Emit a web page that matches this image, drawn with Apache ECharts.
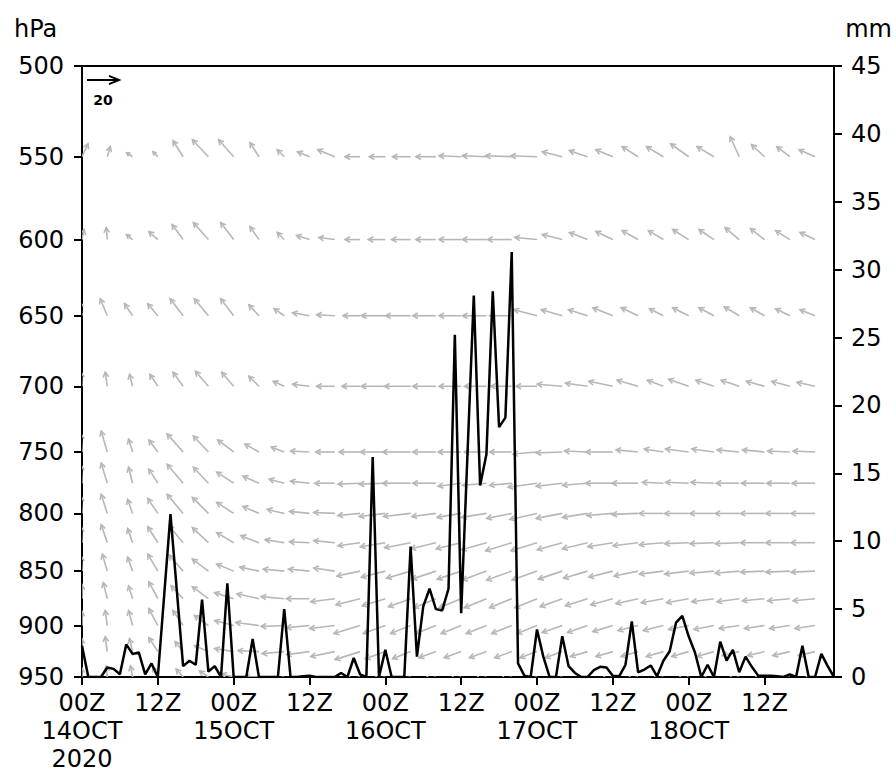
<!DOCTYPE html>
<html><head><meta charset="utf-8">
<script src="https://cdn.jsdelivr.net/npm/echarts@6/dist/echarts.min.js"></script>
<style>html,body{margin:0;padding:0;background:#fff}#c{width:896px;height:773px}</style>
</head><body><div id="c"></div>
<script>
// ---------------- DATA ----------------
// hourly precipitation (mm), 00Z 14OCT2020 .. 23Z 18OCT2020
const precip = [
 2.3,0,0,0,0.7,0.6,0.2,2.4,1.7,1.8,0.2,1.0,
 0,6.0,12.0,6.4,0.8,1.2,0.9,5.7,0.4,0.8,0,6.9,
 0,0,0,2.8,0,0,0,0,5.0,0,0,0.05,0.1,0,0,0,0,0.3,0,1.4,0.2,0,16.2,0,
 2.0,0,0,0,9.6,1.5,5.2,6.5,5.0,4.9,6.5,25.2,4.7,16.4,28.1,14.1,16.4,28.4,18.4,19.1,31.3,1.0,0.1,0,
 3.5,1.5,0,0,3.0,0.8,0.3,0,0,0.5,0.75,0.7,0.1,0.05,0.9,4.1,0.35,0.55,0.85,0.05,1.2,1.9,4.0,4.5,
 3.0,1.8,0,0.9,0,2.6,1.2,2.0,0.35,1.5,0.75,0.1,0.1,0.1,0.05,0,0.2,0,2.3,0,0,1.7,0.8,0
];
const xTickHours = [0,12,24,36,48,60,72,84,96,108];
const xTickLabels = ['00Z\n14OCT\n2020','12Z','00Z\n15OCT','12Z','00Z\n16OCT','12Z','00Z\n17OCT','12Z','00Z\n18OCT','12Z'];
const pressureTicks = [500,550,600,650,700,750,800,850,900,950];
const windHours = [0,4,8,12,16,20,24,28,32,36,40,44,48,52,56,60,64,68,72,76,80,84,88,92,96,100,104,108,112,116];
const levels = [550,600,650,700,750,775,800,825,850,875,900,925,950];
// wind components (m/s) per level, one value per windHours entry
const u550 = [3.8,1.9,-3.8,-3.1,-6.3,-10,-9.4,-5.6,-4.4,-7.5,-10.6,-9.4,-10,-11.3,-12.5,-13.8,-15,-16.3,-16.3,-12.5,-11.3,-10.6,-10,-10.6,-11.3,-10.6,-5.6,-8.1,-8.1,-10];
const v550 = [8.1,6.3,2.5,3.1,10,10.6,10.6,8.8,4.4,3.1,4.4,0,0,0,0,0.6,0.6,0.6,0.6,3.1,3.8,4.4,6.3,6.3,8.1,6.3,12.5,7.5,6.3,4.4];
const u600 = [1.3,-0.6,-3.8,-5.6,-6.9,-9.4,-8.1,-5.6,-4.4,-8.1,-10,-9.4,-10.6,-11.9,-12.5,-13.8,-15,-15,-13.8,-12.5,-11.3,-10.6,-10,-9.4,-10,-9.4,-8.8,-8.8,-8.8,-9.4];
const v600 = [6.3,7.5,3.1,5,9.4,10.6,10.6,8.1,4.4,2.5,1.3,0,0,0,0,0,0,0,1.3,3.1,4.4,5,5.6,5.6,6.3,6.3,7.5,6.9,5.6,4.4];
const u650 = [-1.3,-4.4,-5,-6.3,-8.1,-8.8,-8.1,-6.3,-6.3,-10.6,-11.3,-10.6,-15,-15.6,-14.4,-13.8,-15,-13.8,-14.4,-13.1,-11.9,-12.5,-10.6,-8.8,-10,-9.4,-9.4,-8.8,-8.8,-9.4];
const v650 = [8.8,10.6,7.5,7.5,10.6,10.6,10.6,6.9,4.4,1.9,0.6,0,0,0,0,0,0,0,3.8,3.8,3.8,5,5,4.4,5,5,5.6,5,4.4,3.8];
const u700 = [-0.6,-1.3,-1.9,-5,-6.3,-8.1,-7.5,-6.3,-6.9,-10.6,-11.3,-11.3,-15,-16.3,-14.4,-13.8,-13.8,-13.1,-13.1,-15.6,-13.8,-15,-13.1,-10,-12.5,-11.3,-11.3,-11.3,-11.3,-11.3];
const v700 = [8.8,8.8,7.5,7.5,8.8,9.4,8.8,6.3,3.1,1.3,0,0,0,0,0,0,0,0,0,1.3,1.9,3.1,3.8,3.8,4.4,3.8,3.8,3.1,3.1,2.5];
const u750 = [-0.6,-3.8,-2.5,-5.6,-10,-9.4,-10,-8.8,-8.1,-11.9,-11.9,-13.1,-15.6,-17.5,-14.4,-14.4,-13.8,-13.8,-15,-16.3,-14.4,-16.9,-13.8,-11.9,-14.4,-13.8,-13.8,-13.8,-13.8,-13.8];
const v750 = [11.3,13.1,8.1,7.5,11.3,10,7.5,5,3.1,0.6,0,0,0,0,0,0,0,0,-1.3,-0.6,0.6,0,1.3,1.9,1.9,1.9,1.3,1.3,0.6,0.6];
const u775 = [-0.6,-3.8,-2.5,-5.6,-10,-9.4,-10.6,-10,-9.4,-11.9,-12.5,-13.8,-16.3,-17.5,-14.4,-14.4,-15,-13.8,-18.1,-16.3,-15.6,-16.9,-16.3,-13.1,-14.4,-14.4,-14.4,-14.4,-14.4,-14.4];
const v775 = [11.3,12.5,10,8.8,11.9,10,6.9,4.4,2.5,1.3,0,-0.6,-0.6,0,0,-1.9,-1.3,-1.3,-2.5,-1.9,-1.3,0,0,0.6,0.6,0.6,0,0,0,0];
const u800 = [-0.6,-3.8,-3.1,-6.3,-10,-10,-10.6,-10,-10.6,-12.5,-13.1,-13.8,-16.3,-16.9,-15,-15,-15.6,-15.6,-16.9,-16.3,-15.6,-16.3,-16.3,-15,-15,-15,-15,-15,-15,-15];
const v800 = [10.6,11.9,8.8,9.4,11.9,10,6.9,4.4,2.5,1.3,0.6,-1.3,-1.9,-1.9,-1.9,-2.5,-2.5,-3.1,-3.8,-3.1,-2.5,-1.3,-0.6,0,0,0,0,0,0,0];
const u825 = [-0.6,-3.8,-3.1,-6.3,-8.8,-10,-10.6,-11.3,-11.9,-12.5,-13.1,-13.8,-15.6,-16.3,-15.6,-15.6,-15.6,-16.3,-16.3,-15.6,-15.6,-15.6,-15.6,-15,-15,-15,-15,-15,-15,-15];
const v825 = [10,11.3,8.8,10,10.6,9.4,6.3,4.4,1.9,0.6,1.3,-1.9,-2.5,-3.1,-3.8,-3.8,-4.4,-5,-5,-4.4,-3.8,-2.5,-1.9,-1.3,-0.6,-0.6,-0.6,0,0,0];
const u850 = [-0.6,-3.1,-3.1,-6.3,-8.8,-10,-10.6,-11.9,-13.1,-13.1,-13.1,-14.4,-15,-15,-15,-15,-15,-15.6,-15.6,-15,-15,-15,-15,-15,-15,-15,-15,-15,-15,-15];
const v850 = [9.4,10.6,8.8,10.6,10,7.5,4.4,2.5,1.3,1.3,1.9,-3.1,-3.8,-4.4,-5,-5,-5.6,-5.6,-5.6,-5,-4.4,-3.8,-3.1,-1.9,-1.9,-1.3,-1.3,-0.6,-0.6,-0.6];
const u875 = [0,-2.5,-2.5,-5.6,-7.5,-10,-11.9,-13.8,-14.4,-14.4,-15,-15,-14.4,-13.8,-13.8,-13.8,-13.8,-13.8,-13.8,-13.8,-13.8,-13.8,-13.8,-13.8,-13.8,-13.8,-13.8,-13.8,-13.8,-13.8];
const v875 = [8.8,10,8.1,10.6,8.1,7.5,3.8,3.1,1.3,0,-1.9,-3.8,-4.4,-5,-5.6,-5.6,-5.6,-5.6,-5.6,-5,-4.4,-3.8,-3.1,-2.5,-2.5,-1.9,-1.9,-1.3,-1.3,-1.3];
const u900 = [0,-1.3,-2.5,-5.6,-6.3,-8.8,-11.9,-14.4,-14.4,-14.4,-15.6,-16.3,-13.8,-12.5,-12.5,-12.5,-12.5,-12.5,-12.5,-12.5,-12.5,-12.5,-12.5,-12.5,-12.5,-12.5,-12.5,-12.5,-12.5,-12.5];
const v900 = [8.8,9.4,9.4,10.6,9.4,6.3,3.1,1.9,-0.6,-1.3,-1.9,-5,-5,-5,-5,-5,-5,-5,-5,-4.4,-4.4,-3.8,-3.1,-3.1,-2.5,-2.5,-1.9,-1.9,-1.9,-1.9];
const u925 = [0,-1.3,-1.9,-5.6,-5,-8.8,-11.9,-13.1,-13.8,-14.4,-15,-15.6,-12.5,-11.3,-10.6,-10.6,-10.6,-10.6,-10.6,-10.6,-10.6,-10.6,-10.6,-10.6,-10.6,-10.6,-10.6,-10.6,-10.6,-10.6];
const v925 = [8.1,9.4,8.1,8.8,6.3,3.8,1.9,0.6,-1.3,-1.9,-3.1,-5,-4.4,-4.4,-3.8,-3.8,-3.8,-3.8,-3.8,-3.8,-3.1,-3.1,-3.1,-3.1,-3.1,-3.1,-2.5,-2.5,-2.5,-2.5];
const u950 = [0,-0.6,-1.3,-3.1,-4.4,-5.6,-7.5,-8.8,-8.8,-8.8,-8.8,-8.8,-8.1,-7.5,-7.5,-7.5,-7.5,-7.5,-7.5,-7.5,-7.5,-7.5,-7.5,-7.5,-7.5,-7.5,-7.5,-7.5,-7.5,-7.5];
const v950 = [5.6,6.9,6.9,6.3,5,3.8,1.9,0,-1.9,-1.9,-1.9,-1.9,-1.9,-1.9,-1.9,-1.9,-1.9,-1.9,-1.9,-1.9,-1.9,-1.9,-1.9,-1.9,-1.9,-1.9,-1.9,-1.9,-1.9,-1.9];
const refSpeed = 20; // m/s, reference vector
// --------------------------------------

const uByLevel = [u550,u600,u650,u700,u750,u775,u800,u825,u850,u875,u900,u925,u950];
const vByLevel = [v550,v600,v650,v700,v750,v775,v800,v825,v850,v875,v900,v925,v950];
const PX_PER_MS = 1.6;
const FONT = 'DejaVu Sans';
const P_TOP = 500, P_BOT = 950;

const vecData = [];
levels.forEach((p, li) => {
  windHours.forEach((h, hi) => {
    vecData.push([h, Math.log(p), uByLevel[li][hi], vByLevel[li][hi]]);
  });
});
const lineData = precip.map((v, i) => [i, v]);

function arrow(x0, y0, dx, dy, color, lw, headLen, headHalf) {
  const len = Math.hypot(dx, dy);
  if (len < 0.3) return [];
  const hx = x0 + dx, hy = y0 + dy;
  const ux = dx / len, uy = dy / len;
  const hl = Math.min(headLen, len * 0.5), hw = hl * headHalf;
  const bx = hx - ux * hl, by = hy - uy * hl;
  return [
    {type:'line', shape:{x1:x0,y1:y0,x2:hx,y2:hy}, style:{stroke:color,lineWidth:lw}},
    {type:'polyline', shape:{points:[[bx - uy*hw, by + ux*hw],[hx,hy],[bx + uy*hw, by - ux*hw]]}, style:{stroke:color,lineWidth:lw,fill:null}}
  ];
}

const chart = echarts.init(document.getElementById('c'), null, {renderer:'svg'});
const labelStyle = {color:'#000', fontFamily:FONT, fontSize:24};
chart.setOption({
  animation:false,
  backgroundColor:'#fff',
  grid:{left:82,right:62,top:66,bottom:92,show:true,borderColor:'#000',borderWidth:2,backgroundColor:'transparent'},
  xAxis:{
    type:'value', min:0, max:119, interval:12,
    axisLine:{show:true,lineStyle:{color:'#000',width:2}},
    axisTick:{show:true,length:8,lineStyle:{color:'#000',width:2},customValues:xTickHours},
    axisLabel:Object.assign({margin:12,lineHeight:28,customValues:xTickHours,
      formatter:(v)=>{const i=xTickHours.indexOf(Math.round(v));return i>=0?xTickLabels[i]:'';}}, labelStyle),
    splitLine:{show:false}
  },
  yAxis:[{
    type:'value', min:Math.log(P_TOP), max:Math.log(P_BOT), inverse:true, position:'left',
    axisLine:{show:true,lineStyle:{color:'#000',width:2}},
    axisTick:{show:true,length:8,lineStyle:{color:'#000',width:2},customValues:pressureTicks.map(Math.log)},
    axisLabel:Object.assign({margin:18,customValues:pressureTicks.map(Math.log),
      formatter:(v)=>String(Math.round(Math.exp(v)))}, labelStyle),
    splitLine:{show:false}
  },{
    type:'value', min:0, max:45, interval:5, position:'right',
    axisLine:{show:true,lineStyle:{color:'#000',width:2}},
    axisTick:{show:true,length:8,lineStyle:{color:'#000',width:2}},
    axisLabel:Object.assign({margin:17}, labelStyle),
    splitLine:{show:false}
  }],
  graphic:[
    {type:'text', left:14, top:17, style:{text:'hPa', font:'24px "DejaVu Sans"', fill:'#000'}},
    {type:'text', right:4, top:17, style:{text:'mm', font:'24px "DejaVu Sans"', fill:'#000'}}
  ],
  series:[
    {
      type:'custom', name:'wind', xAxisIndex:0, yAxisIndex:0, clip:true, silent:true, z:2,
      data:vecData,
      renderItem:(params, api)=>{
        const p = api.coord([api.value(0), api.value(1)]);
        const dx = api.value(2) * PX_PER_MS, dy = -api.value(3) * PX_PER_MS;
        return {type:'group', children:arrow(p[0], p[1], dx, dy, '#b7b7b7', 1.6, 5, 0.55)};
      }
    },
    {
      type:'line', name:'precip', xAxisIndex:0, yAxisIndex:1, data:lineData, symbol:'none', z:3,
      lineStyle:{color:'#000',width:2.5}, silent:true
    },
    {
      type:'custom', name:'ref', xAxisIndex:0, yAxisIndex:0, clip:false, silent:true, z:4,
      data:[[refSpeed]],
      renderItem:(params, api)=>{
        const o = api.coord([0, Math.log(P_TOP)]);
        const x0 = o[0] + 5, y0 = o[1] + 14;
        const len = api.value(0) * PX_PER_MS;
        const kids = arrow(x0, y0, len, 0, '#000', 2, 10, 0.42);
        kids.push({type:'text', style:{text:String(api.value(0)), x:x0 + len/2, y:y0 + 20, align:'center', verticalAlign:'middle', font:'bold 14px "DejaVu Sans"', fill:'#000'}});
        return {type:'group', children:kids};
      }
    }
  ]
});
</script></body></html>
